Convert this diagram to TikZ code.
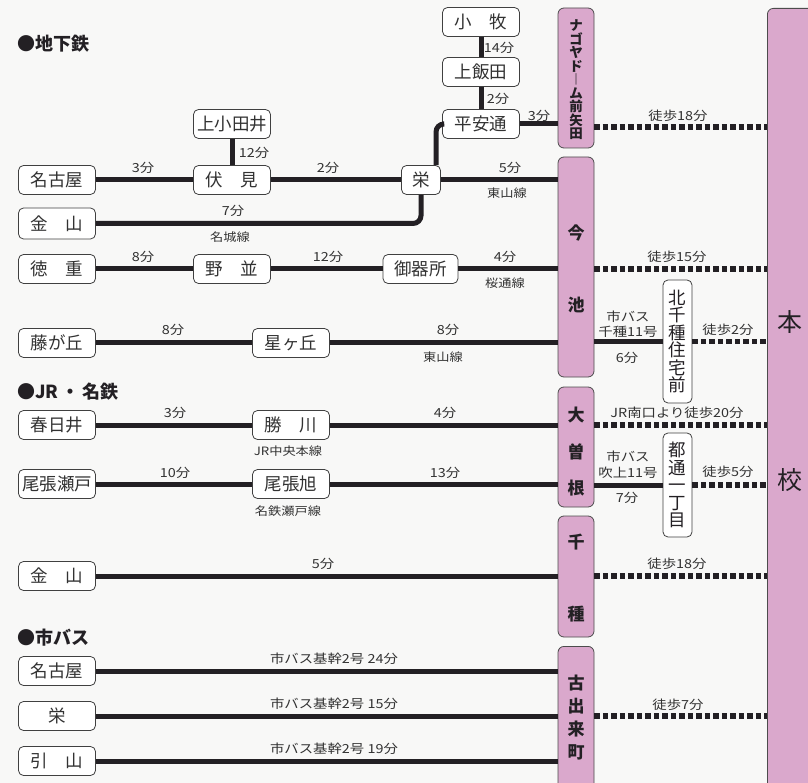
\documentclass[tikz,border=0pt]{standalone}
\usepackage{fontspec}
\setmainfont{Noto Sans CJK JP}
\newfontfamily\lblfont[FakeStretch=1.15]{Noto Sans CJK JP}
\usetikzlibrary{calc}
\definecolor{pinkst}{RGB}{218,168,204}
\definecolor{ink}{RGB}{35,32,36}
\definecolor{txt}{RGB}{50,50,50}
\definecolor{bg}{RGB}{248,248,247}
\newcommand{\fs}[1]{\fontsize{#1}{#1}\selectfont}
\begin{document}
\begin{tikzpicture}[x=1pt,y=-1pt,
  stbox/.style={draw=black!75,line width=0.8pt,fill=white,rounded corners=5pt,
    minimum width=77pt,minimum height=29pt,inner sep=0pt,text=txt,font=\fs{17.5}},
  pbox/.style={draw=black!70,line width=0.8pt,fill=pinkst,rounded corners=6pt,
    minimum width=36pt,inner sep=0pt},
  vbox/.style={draw=black!75,line width=0.8pt,fill=white,rounded corners=5pt,
    minimum width=29pt,inner sep=0pt,align=center,text=ink},
  pch/.style={font=\fs{17}\bfseries,text=ink,inner sep=0pt},
  rail/.style={line width=5pt,draw=ink},
  walk/.style={line width=5.5pt,draw=ink,dash pattern=on 5.5pt off 3pt},
  lbl/.style={font=\lblfont\fs{12.5},text=txt,inner sep=0pt},
  slbl/.style={font=\lblfont\fs{11.5},text=txt,inner sep=0pt},
  blbl/.style={font=\lblfont\fs{12.5},text=txt,inner sep=0pt},
  hdr/.style={font=\fs{18}\bfseries,text=ink,inner sep=0pt,anchor=west}]
\fill[bg] (0,0) rectangle (808,783);
\useasboundingbox (0,0) rectangle (808,783);

% big destination
\node[pbox,minimum width=64pt,minimum height=800pt,anchor=north west] (honkou) at (767,8) {};
\node[font=\fs{25},text=ink,inner sep=0pt] (hon) at (790,322) {本};
\node[font=\fs{25},text=ink,inner sep=0pt] (kou) at (790,480) {校};

% headers
\node[hdr] (h1) at (17,44) {●地下鉄};
\node[hdr] (h2) at (17,392) {●JR\,・\,名鉄};
\node[hdr] (h3) at (17,638) {●市バス};

% pink stations
\node[pbox,minimum height=140pt] (dome) at (576,78) {};
\node[font=\fs{13.5}\bfseries,text=ink,align=center,inner sep=0pt] (domet) at (576,80)
  {\fontsize{13.5}{14.25}\selectfont ナ\\ゴ\\ヤ\\ド\\︱\\ム\\前\\矢\\田};
\node[pbox,minimum height=220pt] (imaike) at (576,267) {};
\node[pch] (ima) at (576,233) {今};
\node[pch] (ike) at (576,305) {池};
\node[pbox,minimum height=120pt] (ozone) at (576,447) {};
\node[pch] (oo) at (576,415) {大};
\node[pch] (so) at (576,452) {曽};
\node[pch] (ne) at (576,488) {根};
\node[pbox,minimum height=121pt] (chikusa) at (576,576.5) {};
\node[pch] (chi) at (576,542) {千};
\node[pch] (kusa) at (576,614) {種};
\node[pbox,minimum height=160pt,anchor=north] (furu) at (576,646) {};
\node[pch] (fu1) at (576,683) {古};
\node[pch] (fu2) at (576,706) {出};
\node[pch] (fu3) at (576,729) {来};
\node[pch] (fu4) at (576,752) {町};

% bus stop boxes
\node[vbox,minimum height=123pt,font=\fs{17.5}] (kita) at (677.5,341.5)
  {\fontsize{17.5}{19.8}\selectfont 北\\千\\種\\住\\宅\\前};
\node[vbox,minimum height=104pt,font=\fs{17.5}] (miyako) at (677.5,485)
  {\fontsize{17.5}{19.5}\selectfont 都\\通\\一\\丁\\目};

% white stations
\node[stbox] (kamiotai) at (232,124) {上小田井};
\node[stbox] (fushimi) at (232,180) {伏\hspace{1em}見};
\node[stbox] (nagoya1) at (57,180) {名古屋};
\node[stbox,minimum height=31pt] (kanayama1) at (57,223.5) {金\hspace{1em}山};
\node[stbox] (komaki) at (481,22) {小\hspace{1em}牧};
\node[stbox] (kamiiida) at (481,72) {上飯田};
\node[stbox] (heian) at (481,124) {平安通};
\node[stbox,minimum width=39pt] (sakae) at (421,180) {栄};
\node[stbox] (tokushige) at (57,269) {徳\hspace{1em}重};
\node[stbox] (nonami) at (232,269) {野\hspace{1em}並};
\node[stbox,minimum width=75pt] (gokiso) at (420.5,269) {御器所};
\node[stbox] (fujigaoka) at (57,343) {藤が丘};
\node[stbox] (hoshigaoka) at (291,343) {星ヶ丘};
\node[stbox] (kasugai) at (57,425) {春日井};
\node[stbox] (kachigawa) at (291,425) {勝\hspace{1em}川};
\node[stbox] (owariseto) at (57,484) {尾張瀬戸};
\node[stbox] (owariasahi) at (291,484) {尾張旭};
\node[stbox] (kanayama2) at (57,576) {金\hspace{1em}山};
\node[stbox] (nagoya2) at (57,671) {名古屋};
\node[stbox] (sakae2) at (57,716) {栄};
\node[stbox] (hikiyama) at (57,761) {引\hspace{1em}山};

% rails
\draw[rail] (kamiotai.south) -- (fushimi.north);
\draw[rail] (nagoya1.east) -- (fushimi.west);
\draw[rail] (fushimi.east) -- (sakae.west);
\draw[rail] (sakae.east) -- (imaike.west |- sakae.east);
\draw[rail] (komaki.south) -- (kamiiida.north);
\draw[rail] (kamiiida.south) -- (heian.north);
\draw[rail] (heian.east) -- (dome.west |- heian.east);
\draw[rail,rounded corners=8pt] ([xshift=15pt]sakae.north) |- (heian.west);
\draw[rail,rounded corners=8pt] (kanayama1.east) -| (sakae.south);
\draw[rail] (tokushige.east) -- (nonami.west);
\draw[rail] (nonami.east) -- (gokiso.west);
\draw[rail] (gokiso.east) -- (imaike.west |- gokiso.east);
\draw[rail] (fujigaoka.east) -- (hoshigaoka.west);
\draw[rail] (hoshigaoka.east) -- (imaike.west |- hoshigaoka.east);
\draw[rail] (imaike.east |- kita.west) -- (kita.west);
\draw[rail] (kasugai.east) -- (kachigawa.west);
\draw[rail] (kachigawa.east) -- (ozone.west |- kachigawa.east);
\draw[rail] (owariseto.east) -- (owariasahi.west);
\draw[rail] (owariasahi.east) -- (ozone.west |- owariasahi.east);
\draw[rail] (ozone.east |- miyako.west) -- (miyako.west);
\draw[rail] (kanayama2.east) -- (chikusa.west |- kanayama2.east);
\draw[rail] (nagoya2.east) -- (furu.west |- nagoya2.east);
\draw[rail] (sakae2.east) -- (furu.west |- sakae2.east);
\draw[rail] (hikiyama.east) -- (furu.west |- hikiyama.east);

% walking
\coordinate (w1) at (594,127);
\draw[walk] (w1) -- (honkou.west |- w1);
\draw[walk] (imaike.east |- gokiso.east) -- (honkou.west |- gokiso.east);
\draw[walk] (kita.east) -- (honkou.west |- kita.east);
\draw[walk] (ozone.east |- kachigawa.east) -- (honkou.west |- kachigawa.east);
\draw[walk] (miyako.east) -- (honkou.west |- miyako.east);
\draw[walk] (chikusa.east |- kanayama2.east) -- (honkou.west |- kanayama2.east);
\draw[walk] (furu.east |- sakae2.east) -- (honkou.west |- sakae2.east);

% labels
\node[lbl] (l1) at (254,153) {12分};
\node[lbl] (l2) at (143,168) {3分};
\node[lbl] (l3) at (328,168) {2分};
\node[lbl] (l4) at (499,48) {14分};
\node[lbl] (l5) at (498,99) {2分};
\node[lbl] (l6) at (539,116) {3分};
\node[lbl] (l7) at (678,116) {徒歩18分};
\node[lbl] (l8) at (510,168) {5分};
\node[slbl] (l9) at (507,193) {東山線};
\node[lbl] (l10) at (233,211) {7分};
\node[slbl] (l11) at (230,237) {名城線};
\node[lbl] (l12) at (143,257) {8分};
\node[lbl] (l13) at (328,257) {12分};
\node[lbl] (l14) at (505,257) {4分};
\node[slbl] (l15) at (505,283) {桜通線};
\node[lbl] (l16) at (677,257) {徒歩15分};
\node[lbl] (l17) at (173,330) {8分};
\node[lbl] (l18) at (448,330) {8分};
\node[slbl] (l19) at (443,357) {東山線};
\node[lbl] (l20) at (628,317) {市バス};
\node[lbl] (l21) at (628,332) {千種11号};
\node[lbl] (l22) at (627,358) {6分};
\node[lbl] (l23) at (728,330) {徒歩2分};
\node[lbl] (l24) at (175,413) {3分};
\node[lbl] (l25) at (445,413) {4分};
\node[slbl] (l26) at (288,451) {JR中央本線};
\node[lbl] (l27) at (677,413) {JR南口より徒歩20分};
\node[lbl] (l28) at (175,473) {10分};
\node[lbl] (l29) at (445,473) {13分};
\node[slbl] (l30) at (288,511) {名鉄瀬戸線};
\node[lbl] (l31) at (628,457) {市バス};
\node[lbl] (l32) at (628,473) {吹上11号};
\node[lbl] (l33) at (627,498) {7分};
\node[lbl] (l34) at (728,472) {徒歩5分};
\node[lbl] (l35) at (323,564) {5分};
\node[lbl] (l36) at (677,564) {徒歩18分};
\node[blbl] (l37) at (334,659) {市バス基幹2号 24分};
\node[blbl] (l38) at (334,704) {市バス基幹2号 15分};
\node[blbl] (l39) at (334,749) {市バス基幹2号 19分};
\node[lbl] (l40) at (678,705) {徒歩7分};
\end{tikzpicture}
\end{document}
